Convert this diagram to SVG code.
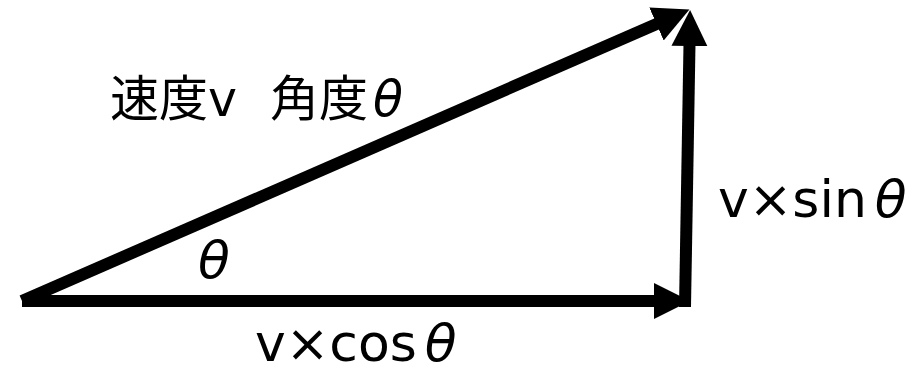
<svg xmlns="http://www.w3.org/2000/svg" width="920" height="367" viewBox="0 0 920 367">
<style>
.t{font-family:"DejaVu Sans","Noto Sans CJK JP",sans-serif;font-size:52px;fill:#000}
.v{font-size:49px}
.th{font-style:oblique}
.c{stroke:#000;stroke-width:12;fill:none;stroke-linecap:butt}
</style>
<defs>
<marker id="ah" markerUnits="userSpaceOnUse" markerWidth="40" markerHeight="40" viewBox="0 -20 40 40" refX="2" refY="0" orient="auto">
<path d="M0,-18 L36,0 L0,18 z" fill="#000"/>
</marker>
</defs>
<rect width="920" height="367" fill="#fff"/>
<g id="connectors">
<line class="c" x1="22" y1="301" x2="656" y2="301" marker-end="url(#ah)"/>
<line class="c" x1="685" y1="307" x2="689.5" y2="44" marker-end="url(#ah)"/>
<line class="c" x1="22" y1="301" x2="658.3" y2="23.2" marker-end="url(#ah)"/>
</g>
<g id="label-velocity">
<text class="t v" x="110" y="116">速度v</text>
<text class="t v" x="270" y="116">角度<tspan class="th" dx="5">θ</tspan></text>
</g>
<g id="label-sin">
<text class="t" x="718" y="217">v×sin<tspan class="th" dx="8">θ</tspan></text>
</g>
<g id="label-angle">
<text class="t" x="198" y="278"><tspan class="th">θ</tspan></text>
</g>
<g id="label-cos">
<text class="t" x="255" y="361">v×cos<tspan class="th" dx="8">θ</tspan></text>
</g>
</svg>
